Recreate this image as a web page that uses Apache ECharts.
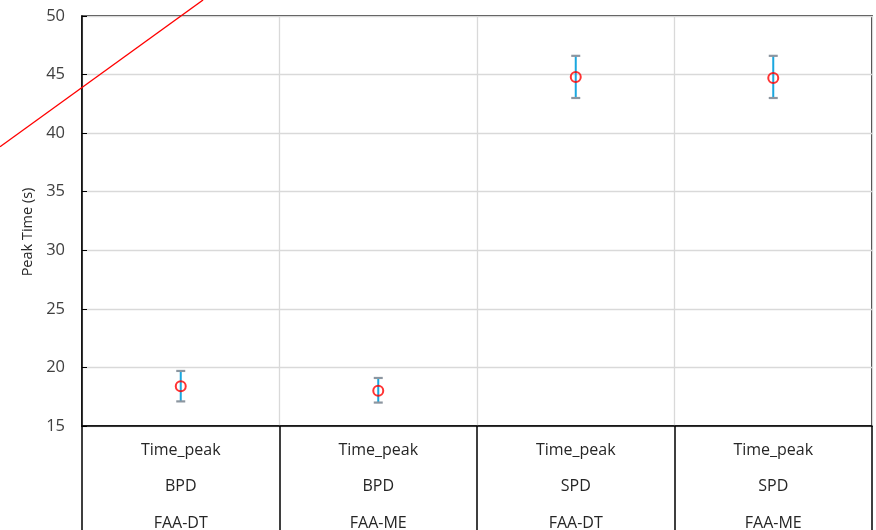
<!DOCTYPE html>
<html><head><meta charset="utf-8">
<script src="https://cdn.jsdelivr.net/npm/echarts@6/dist/echarts.min.js"></script>
<style>html,body{margin:0;padding:0;background:#fff}#c{width:876px;height:530px}</style>
</head><body><div id="c"></div>
<script>
const categories = ['Time_peak\nBPD\nFAA-DT','Time_peak\nBPD\nFAA-ME','Time_peak\nSPD\nFAA-DT','Time_peak\nSPD\nFAA-ME'];
const means = [18.4, 18.0, 44.8, 44.7];
const lows  = [17.1, 17.0, 43.0, 43.0];
const highs = [19.7, 19.1, 46.6, 46.6];
const refLine = [[-0.415, 38.84], [0.613, 51.37]];
const yTicks = {min: 15, max: 50, interval: 5};
const yTitle = 'Peak Time (s)';

const chart = echarts.init(document.getElementById('c'));
const font = 'Open Sans';
chart.setOption({
  animation: false,
  grid: {left: 82, top: 16, right: 4, bottom: 104, show: true, borderColor: '#000', borderWidth: 1.5,
         containLabel: false, outerBoundsMode: 'none'},
  xAxis: [{
    type: 'category', data: categories,
    axisLine: {lineStyle: {color: '#000', width: 1.5}},
    axisTick: {show: true, length: 106, lineStyle: {color: '#000', width: 1.5}},
    splitLine: {show: true, lineStyle: {color: '#d9d9d9', width: 1.3}},
    axisLabel: {margin: 6, lineHeight: 36.5, fontSize: 16, fontFamily: font, color: '#262626'}
  }, {
    type: 'value', min: 0, max: 4, show: false
  }],
  yAxis: {
    type: 'value', min: yTicks.min, max: yTicks.max, interval: yTicks.interval,
    axisLine: {show: true, lineStyle: {color: '#000', width: 1.5}},
    axisTick: {show: true, inside: true, length: 5, lineStyle: {color: '#000'}},
    splitLine: {lineStyle: {color: '#d9d9d9', width: 1.3}},
    axisLabel: {fontSize: 16.5, fontFamily: font, color: '#404040', margin: 17}
  },
  series: [{
    type: 'custom',
    data: categories.map((c, i) => [i, lows[i], highs[i]]),
    renderItem: function (params, api) {
      const lo = api.coord([api.value(0), api.value(1)]);
      const hi = api.coord([api.value(0), api.value(2)]);
      const w = 4.5;
      return {type: 'group', children: [
        {type: 'line', shape: {x1: lo[0], y1: lo[1], x2: hi[0], y2: hi[1]}, style: {stroke: '#1aa7df', lineWidth: 2}},
        {type: 'line', shape: {x1: lo[0]-w, y1: lo[1], x2: lo[0]+w, y2: lo[1]}, style: {stroke: '#8c96a0', lineWidth: 2.2}},
        {type: 'line', shape: {x1: hi[0]-w, y1: hi[1], x2: hi[0]+w, y2: hi[1]}, style: {stroke: '#8c96a0', lineWidth: 2.2}}
      ]};
    },
    z: 3
  }, {
    type: 'scatter', data: means, symbol: 'circle', symbolSize: 10,
    itemStyle: {color: 'rgba(0,0,0,0)', borderColor: '#ff0000', borderWidth: 2},
    z: 4
  }]
});
const pts = refLine.map(p => chart.convertToPixel({xAxisIndex: 1, yAxisIndex: 0}, p));
const yMid = chart.convertToPixel({yAxisIndex: 0}, (yTicks.min + yTicks.max) / 2);
chart.setOption({
  graphic: [{
    type: 'polyline', shape: {points: pts}, silent: true, z: 100,
    style: {stroke: '#ff0000', lineWidth: 1.3, fill: null}
  }, {
    type: 'text', x: 28, y: yMid + 11, rotation: Math.PI / 2,
    style: {text: yTitle, fontSize: 14.5, fontFamily: font, fill: '#262626', align: 'center', verticalAlign: 'middle'}
  }]
});
</script></body></html>
